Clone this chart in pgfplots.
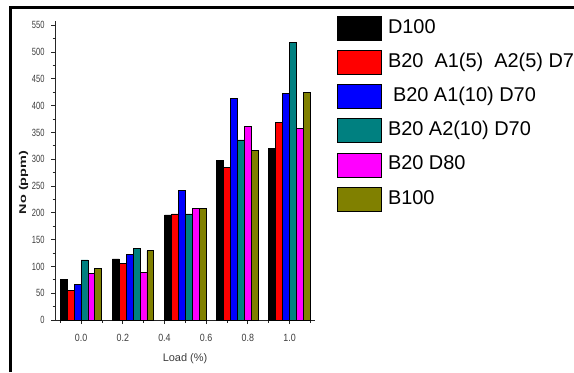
\documentclass[border=0pt]{standalone}
\usepackage{pgfplots}
\pgfplotsset{compat=1.18}
\usepackage{pgfplotstable}
\usepackage{fontspec}
\setmainfont{Liberation Sans}
\definecolor{cteal}{RGB}{0,128,128}
\definecolor{colive}{RGB}{128,128,0}
\definecolor{cmag}{RGB}{255,0,255}
\definecolor{cred}{RGB}{255,0,0}
\definecolor{cblue}{RGB}{0,0,255}
\definecolor{tickgray}{RGB}{60,60,60}
\pgfplotstableread{
x    D100 Ba Bb Bc Bd Be
0    76   55  67  112 87  97
0.25 114  105 122 134 89  129
0.5  196  198 242 198 208 208
0.75 297  285 414 336 362 316
1.0  320  369 422 518 357 424
}\datatab
\begin{document}
\begin{tikzpicture}[x=1bp,y=1bp]
\draw[line width=2.5bp] (10.5,0) -- (10.5,364.5) -- (580,364.5);
\begin{axis}[
  at={(55bp,52bp)}, anchor=south west,
  scale only axis, width=260bp, height=299bp,
  xmin=-0.125, xmax=1.122, ymin=0, ymax=558,
  axis x line*=bottom, axis y line*=left,
  axis line style={-, line width=0.9bp, black!85},
  ybar=0pt, bar width=6.9bp,
  xtick={0,0.2,0.4,0.6,0.8,1.0},
  minor xtick={-0.1,0.1,0.3,0.5,0.7,0.9,1.1},
  ytick={0,50,...,550},
  minor y tick num=1,
  tick align=outside,
  major tick length=4bp, minor tick length=2.5bp,
  tick style={black!85, line width=0.8bp},
  /pgf/number format/assume math mode=true,
  yticklabel={\scalebox{0.72}[1]{\pgfmathprintnumber{\tick}}},
  xticklabel={\scalebox{0.85}[1]{\pgfmathprintnumber[fixed,fixed zerofill,precision=1]{\tick}}},
  ticklabel style={font=\fontsize{10.5}{11}\selectfont, text=tickgray},
  xticklabel style={yshift=-7bp},
  yticklabel style={xshift=-3bp},
  xlabel={Load (\%)},
  xlabel style={at={(axis description cs:0.5,-0.13)}, anchor=center, font=\fontsize{11}{12}\selectfont, text=tickgray},
  ylabel={\scalebox{1}[0.68]{\bfseries No (ppm)}},
  ylabel style={at={(axis description cs:-0.121,0.46)}, anchor=center, font=\fontsize{14.5}{15}\selectfont, text=black!90},
  legend style={draw=none, fill=none, at={(axis description cs:1.0846,1.017)}, anchor=north west,
    inner sep=0pt, row sep=9.3bp, column sep=5bp,
    nodes={inner sep=1bp, text height=14bp, text depth=4bp},
    font=\fontsize{20}{22}\selectfont},
  legend cell align=left,
  legend image code/.code={\draw[#1, line width=0.8bp] (0bp,-12bp) rectangle (44bp,12bp);},
  every axis plot/.append style={draw=black, line width=0.8bp},
]
\addplot[fill=black] table[x=x,y=D100]{\datatab};
\addplot[fill=cred] table[x=x,y=Ba]{\datatab};
\addplot[fill=cblue] table[x=x,y=Bb]{\datatab};
\addplot[fill=cteal] table[x=x,y=Bc]{\datatab};
\addplot[fill=cmag] table[x=x,y=Bd]{\datatab};
\addplot[fill=colive] table[x=x,y=Be]{\datatab};
\legend{D100, B20\ \ A1(5)\ \ A2(5) D70, \hspace{5bp}B20 A1(10) D70, B20 A2(10) D70, B20 D80, B100}
\end{axis}
\pgfresetboundingbox
\useasboundingbox (0,0) rectangle (574,372);
\end{tikzpicture}
\end{document}
